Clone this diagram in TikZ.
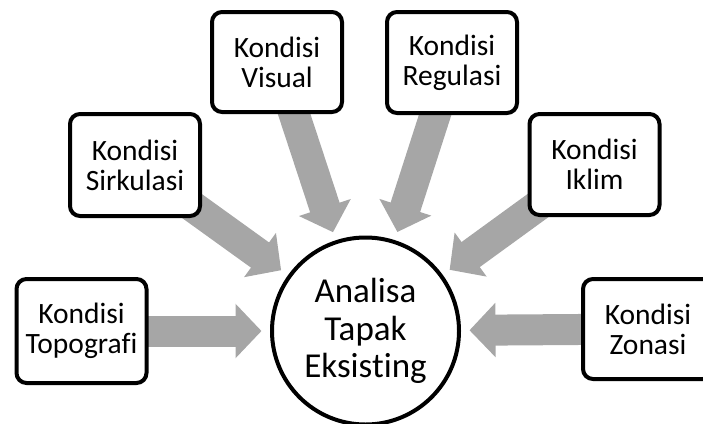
\documentclass[tikz,border=0pt]{standalone}
\usepackage{fontspec}
\setmainfont{Carlito}[Ligatures=NoCommon]
\usetikzlibrary{arrows.meta,calc,backgrounds}
\definecolor{arrowgray}{HTML}{A6A6A6}
\tikzset{
  kbox/.style={draw=black, fill=white, line width=4pt, rounded corners=10pt,
    minimum width=130pt, minimum height=102pt, align=center, inner sep=0pt,
    font=\fontsize{29.5}{30}\selectfont},
  hub/.style={draw=black, fill=white, line width=4pt, circle, minimum size=187pt,
    align=center, inner sep=0pt, font=\fontsize{35}{37.5}\selectfont},
  bigarrow/.style={draw=arrowgray, line width=31pt,
    -{Triangle[width=53pt,length=26pt]}}
}
\begin{document}
\begin{tikzpicture}[x=1pt,y=-1pt]
\useasboundingbox (0,0) rectangle (703,423);
\clip (0,0) rectangle (703,423);
\node[hub] (c) at (365.5,331) {Analisa\\Tapak\\Eksisting};
\node[kbox, minimum height=104pt] (topo) at (81.5,331) {Kondisi\\Topografi};
\node[kbox] (sirk) at (135,165) {Kondisi\\Sirkulasi};
\node[kbox, minimum height=100pt] (vis) at (277,62) {Kondisi\\Visual};
\node[kbox, minimum height=101pt] (reg) at (452,62.5) {Kondisi\\Regulasi};
\node[kbox, minimum height=101pt] (ikl) at (594.5,164.5) {Kondisi\\Iklim};
\node[kbox, minimum height=100pt] (zon) at (648,329) {Kondisi\\Zonasi};
\coordinate (tTopo) at ($(c.center)!104pt!(topo.center)$);
\coordinate (tSirk) at ($(c.center)!104pt!(sirk.center)$);
\coordinate (tVis) at ($(c.center)!104pt!(vis.center)$);
\coordinate (tReg) at ($(c.center)!104pt!(reg.center)$);
\coordinate (tIkl) at ($(c.center)!104pt!(ikl.center)$);
\coordinate (tZon) at ($(c.center)!104pt!(zon.center)$);
\begin{scope}[on background layer]
\draw[bigarrow] (topo.center) -- (tTopo);
\draw[bigarrow] (sirk.center) -- (tSirk);
\draw[bigarrow] (vis.center) -- (tVis);
\draw[bigarrow] (reg.center) -- (tReg);
\draw[bigarrow] (ikl.center) -- (tIkl);
\draw[bigarrow] (zon.center) -- (tZon);
\end{scope}
\end{tikzpicture}
\end{document}
